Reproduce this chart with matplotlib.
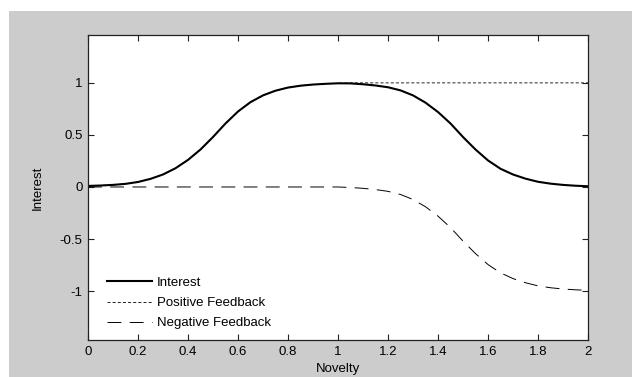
import matplotlib
matplotlib.use('Agg')
import matplotlib.pyplot as plt
from matplotlib.patches import Rectangle
import numpy as np

# values, step 0.05 in novelty
novelty = np.round(np.arange(0, 2.0001, 0.05), 2)
positive = [0.01, 0.014, 0.02, 0.03, 0.048, 0.078, 0.12, 0.18, 0.26, 0.36,
            0.48, 0.61, 0.725, 0.815, 0.88, 0.925, 0.955, 0.973, 0.984, 0.991,
            0.996, 1.0, 1.0, 1.0, 1.0, 1.0, 1.0, 1.0, 1.0, 1.0,
            1.0, 1.0, 1.0, 1.0, 1.0, 1.0, 1.0, 1.0, 1.0, 1.0, 1.0]
negative = [0, 0, 0, 0, 0, 0, 0, 0, 0, 0,
            0, 0, 0, 0, 0, 0, 0, 0, 0, 0,
            0, -0.005, -0.013, -0.025, -0.042, -0.072, -0.12, -0.19, -0.28, -0.39,
            -0.52, -0.64, -0.745, -0.825, -0.88, -0.92, -0.95, -0.968, -0.98, -0.988, -0.993]
interest = np.array(positive) + np.array(negative)

xticks = [0, 0.2, 0.4, 0.6, 0.8, 1, 1.2, 1.4, 1.6, 1.8, 2]
xticklabels = ['0', '0.2', '0.4', '0.6', '0.8', '1', '1.2', '1.4', '1.6', '1.8', '2']
yticks = [-1, -0.5, 0, 0.5, 1]
yticklabels = ['-1', '-0.5', '0', '0.5', '1']

plt.rcParams['font.family'] = ['Liberation Sans', 'DejaVu Sans']
plt.rcParams['lines.scale_dashes'] = False
fs = 9.5

W, H = 632, 377
fig = plt.figure(figsize=(W / 100, H / 100), dpi=100, facecolor='white')
fig.add_artist(Rectangle((9 / W, 0), 1 - 9 / W, (H - 11) / H, transform=fig.transFigure,
                         facecolor='#cccccc', edgecolor='none', zorder=-10))

ax = fig.add_axes([88 / W, (H - 340) / H, 500 / W, 305 / H])
ax.set_facecolor('white')

ax.plot(novelty, interest, color='black', lw=1.5, label='Interest', solid_joinstyle='round')
ax.plot(novelty, positive, color='black', lw=0.6, dashes=(2.2, 1.5), label='Positive Feedback')
ax.plot(novelty, negative, color='black', lw=0.7, dashes=(10, 6), label='Negative Feedback')

ax.set_xlim(0, 2)
ax.set_ylim(-1.47, 1.46)
ax.set_xticks(xticks)
ax.set_xticklabels(xticklabels)
ax.set_yticks(yticks)
ax.set_yticklabels(yticklabels)
ax.tick_params(direction='in', length=4, width=0.8, color='#222222', labelsize=fs,
               top=True, right=True, pad=4)

for s in ax.spines.values():
    s.set_color('#222222')
    s.set_linewidth(0.9)

ax.set_xlabel('Novelty', fontsize=fs)
ax.xaxis.set_label_coords(0.5, -0.076)
ax.set_ylabel('Interest', fontsize=fs)
ax.yaxis.set_label_coords(-0.088, 0.5)

ax.legend(loc='lower left', bbox_to_anchor=(0.038, 0.035), frameon=False, fontsize=fs,
          handlelength=3.4, handletextpad=0.4, labelspacing=0.6, borderpad=0, borderaxespad=0)

fig.savefig('out.png', dpi=100, facecolor='white')
